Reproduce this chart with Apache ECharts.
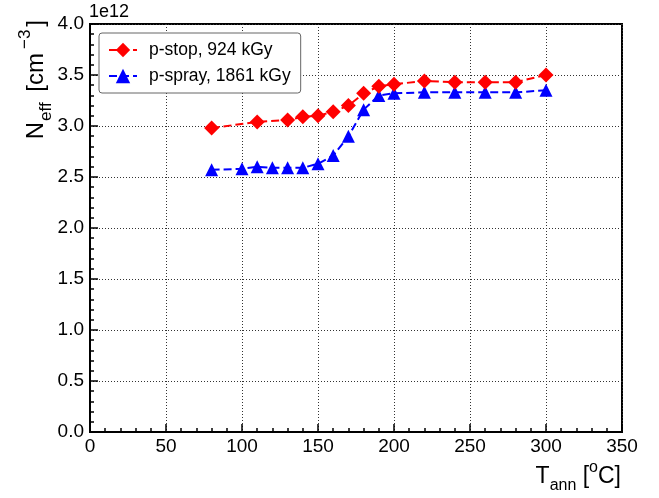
<!DOCTYPE html>
<html>
<head>
<meta charset="utf-8">
<script src="https://cdn.jsdelivr.net/npm/echarts@6/dist/echarts.min.js"></script>
<style>
html,body{margin:0;padding:0;background:#fff;}
#c{width:659px;height:498px;}
</style>
</head>
<body>
<div id="c"></div>
<script>
var stopName = 'p-stop, 924 kGy';
var sprayName = 'p-spray, 1861 kGy';
var stopT = [80,110,130,140,150,160,170,180,190,200,220,240,260,280,300];
var stopN = [2.98,3.04,3.06,3.09,3.10,3.14,3.20,3.32,3.39,3.41,3.44,3.43,3.43,3.43,3.50];
var sprayT = [80,100,110,120,130,140,150,160,170,180,190,200,220,240,260,280,300];
var sprayN = [2.57,2.58,2.60,2.59,2.59,2.59,2.63,2.71,2.90,3.16,3.30,3.32,3.33,3.33,3.33,3.33,3.35];
var xTicks = [0,50,100,150,200,250,300,350];
var yTicks = [0.0,0.5,1.0,1.5,2.0,2.5,3.0,3.5,4.0];

function pairs(xs, ys){ return xs.map(function(x,i){ return [x, ys[i]]; }); }

var FONT = 'Liberation Sans, Arial, sans-serif';
var chart = echarts.init(document.getElementById('c'));
var gridSplit = {show:true, lineStyle:{color:'#333', type:[1,2], width:1}};
chart.setOption({
  animation:false,
  backgroundColor:'#fff',
  grid:{left:90, top:24, width:532, height:408, show:true, borderColor:'#000', borderWidth:2, backgroundColor:'transparent'},
  legend:{
    orient:'vertical', left:99, top:33,
    padding:[8,10,8,9], itemGap:8, itemWidth:28, itemHeight:18,
    backgroundColor:'#fff', borderColor:'#666', borderWidth:1, borderRadius:3,
    textStyle:{fontFamily:FONT, fontSize:17.5, color:'#000', padding:[0,0,0,7]},
    data:[stopName, sprayName]
  },
  xAxis:{
    type:'value', min:xTicks[0], max:xTicks[xTicks.length-1], interval:50,
    axisLine:{show:true, lineStyle:{color:'#000', width:2}},
    axisTick:{show:true, inside:true, length:8, lineStyle:{color:'#000', width:1.5}},
    minorTick:{show:true, splitNumber:5, length:4, lineStyle:{color:'#000', width:1.5}},
    splitLine:gridSplit,
    axisLabel:{color:'#000', fontFamily:FONT, fontSize:19, margin:5,
      formatter:function(v){ return xTicks.indexOf(v) >= 0 ? String(v) : ''; }}
  },
  yAxis:{
    type:'value', min:yTicks[0], max:yTicks[yTicks.length-1], interval:0.5,
    axisLine:{show:true, lineStyle:{color:'#000', width:2}},
    axisTick:{show:true, inside:true, length:8, lineStyle:{color:'#000', width:1.5}},
    minorTick:{show:true, splitNumber:5, length:4, lineStyle:{color:'#000', width:1.5}},
    splitLine:gridSplit,
    axisLabel:{color:'#000', fontFamily:FONT, fontSize:19, margin:6,
      formatter:function(v){ return v.toFixed(1); }}
  },
  graphic:[
    {type:'text', left:89, top:3, style:{text:'1e12', fontFamily:FONT, fontSize:18, fill:'#000'}},
    {type:'text', x:621, y:477, style:{
      text:'{m|T}{s|ann}{m| [}{p|o}{m|C]}', align:'right', verticalAlign:'middle',
      fill:'#000', fontFamily:FONT,
      rich:{
        m:{fontSize:23, lineHeight:34, fontFamily:FONT, fill:'#000', verticalAlign:'middle'},
        s:{fontSize:16, lineHeight:14, fontFamily:FONT, fill:'#000', verticalAlign:'bottom'},
        p:{fontSize:16, lineHeight:14, fontFamily:FONT, fill:'#000', verticalAlign:'top'}
      }}},
    {type:'text', x:36, y:20, rotation:Math.PI/2, style:{
      text:'{m|N}{s|eff}{m| [cm}{p|−3}{m|]}', align:'right', verticalAlign:'middle',
      fill:'#000', fontFamily:FONT,
      rich:{
        m:{fontSize:24, lineHeight:38, fontFamily:FONT, fill:'#000', verticalAlign:'middle'},
        s:{fontSize:17, lineHeight:14, fontFamily:FONT, fill:'#000', verticalAlign:'bottom', padding:[0,4,0,1]},
        p:{fontSize:17, lineHeight:14, fontFamily:FONT, fill:'#000', verticalAlign:'top', padding:[0,3,0,4]}
      }}}
  ],
  series:[
    {name:stopName, type:'line', data:pairs(stopT, stopN), symbol:'diamond', symbolSize:15,
     itemStyle:{color:'#ff0000'}, lineStyle:{color:'#ff0000', width:2, type:[8,4]}, z:3},
    {name:sprayName, type:'line', data:pairs(sprayT, sprayN), symbol:'triangle', symbolSize:13,
     itemStyle:{color:'#0000ff'}, lineStyle:{color:'#0000ff', width:2, type:[8,4]}, z:2}
  ]
});
</script>
</body>
</html>
